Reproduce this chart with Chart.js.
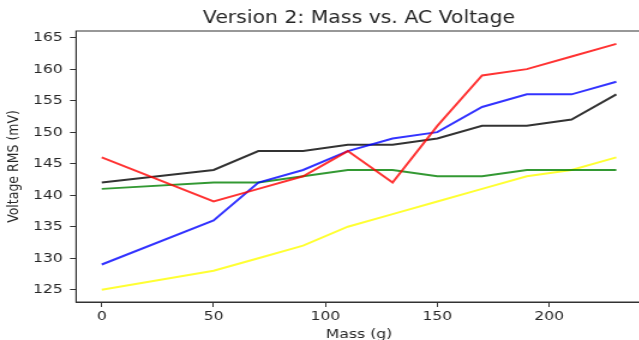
<!DOCTYPE html>
<html>
<head>
<meta charset="utf-8">
<script src="https://cdn.jsdelivr.net/npm/chart.js@4.4.1/dist/chart.umd.min.js"></script>
<style>
	html, body { margin: 0; padding: 0; background: #fff; overflow: hidden; }
	/* the reference is stretched sideways, so the chart is drawn narrow and scaled */
	#wrap { width: 540px; height: 340px; transform: scaleX(1.2); transform-origin: 0 0; }
</style>
</head>
<body>
<div id="wrap"><canvas id="massChart" width="540" height="340"></canvas></div>
<script>
// Configuration
const FONT = "'DejaVu Sans', sans-serif";
const TEXT_COLOR = '#262626';

// --- Data ---
const massValues = [0, 50, 70, 90, 110, 130, 150, 170, 190, 210, 230];
const redSeries = [146, 139, 141, 143, 147, 142, 151, 159, 160, 162, 164];
const blueSeries = [129, 136, 142, 144, 147, 149, 150, 154, 156, 156, 158];
const blackSeries = [142, 144, 147, 147, 148, 148, 149, 151, 151, 152, 156];
const greenSeries = [141, 142, 142, 143, 144, 144, 143, 143, 144, 144, 144];
const yellowSeries = [125, 128, 130, 132, 135, 137, 139, 141, 143, 144, 146];
const xTicks = [0, 50, 100, 150, 200];
const yTicks = [125, 130, 135, 140, 145, 150, 155, 160, 165];

// --- Helper Functions ---

/**
 * Pairs the mass values with one series.
 * @param {number[]} values
 */
const toPoints = values => values.map((v, i) => ({ x: massValues[i], y: v }));

/**
 * Builds one line dataset.
 */
const makeLine = (values, color, order) => ({
	data: toPoints(values),
	borderColor: color,
	borderWidth: 2,
	pointRadius: 0,
	tension: 0,
	fill: false,
	order: order
});

// draws the top and right spines (matplotlib style box)
const frameBox = {
	id: 'frameBox',
	afterDraw(chart) {
		const { ctx, chartArea: a } = chart;
		ctx.save();
		ctx.strokeStyle = '#333';
		ctx.lineWidth = 1;
		ctx.strokeRect(a.left, a.top, a.right - a.left, a.bottom - a.top);
		ctx.restore();
	}
};

function renderChart() {
	const canvas = document.getElementById('massChart');
	const ctx = canvas.getContext('2d');

	new Chart(ctx, {
		type: 'line',
		data: {
			datasets: [
				makeLine(redSeries, 'rgba(255, 0, 0, 0.8)', 1),
				makeLine(blueSeries, 'rgba(0, 0, 255, 0.8)', 2),
				makeLine(blackSeries, 'rgba(0, 0, 0, 0.8)', 3),
				makeLine(greenSeries, 'rgba(0, 128, 0, 0.8)', 4),
				makeLine(yellowSeries, 'rgba(255, 255, 0, 0.8)', 5)
			]
		},
		options: {
			responsive: false,
			animation: false,
			devicePixelRatio: 1,
			layout: { padding: { left: 0, right: 5, top: 0, bottom: 0 } },
			scales: {
				x: {
					type: 'linear',
					min: -11.5,
					max: 241.5,
					afterBuildTicks: axis => { axis.ticks = xTicks.map(v => ({ value: v })); },
					afterFit: axis => { axis.height = 38; },
					grid: { drawOnChartArea: false, drawTicks: true, tickLength: 5, color: '#333' },
					border: { display: true, color: '#333', width: 1 },
					ticks: { color: TEXT_COLOR, font: { family: FONT, size: 13 }, padding: 2, maxRotation: 0 },
					title: {
						display: true, text: 'Mass (g)', color: TEXT_COLOR,
						font: { family: FONT, size: 13 }, padding: { top: 0, bottom: -2 }
					}
				},
				y: {
					type: 'linear',
					min: 123.05,
					max: 166.05,
					afterBuildTicks: axis => { axis.ticks = yTicks.map(v => ({ value: v })); },
					afterFit: axis => { axis.width = 63.33; },
					grid: { drawOnChartArea: false, drawTicks: true, tickLength: 5, color: '#333' },
					border: { display: true, color: '#333', width: 1 },
					ticks: { color: TEXT_COLOR, font: { family: FONT, size: 13 }, padding: 6 },
					title: {
						display: true, text: 'Voltage RMS (mV)', color: TEXT_COLOR,
						font: { family: FONT, size: 12.5 }, padding: { top: 4, bottom: 0 }
					}
				}
			},
			plugins: {
				legend: { display: false },
				tooltip: { enabled: false },
				title: {
					display: true,
					text: 'Version 2: Mass vs. AC Voltage',
					fullSize: false,
					color: TEXT_COLOR,
					font: { family: FONT, size: 17, weight: 'normal', lineHeight: 1.2 },
					padding: { top: 8, bottom: 2.6 }
				}
			}
		},
		plugins: [frameBox]
	});
}

renderChart();
</script>
</body>
</html>
